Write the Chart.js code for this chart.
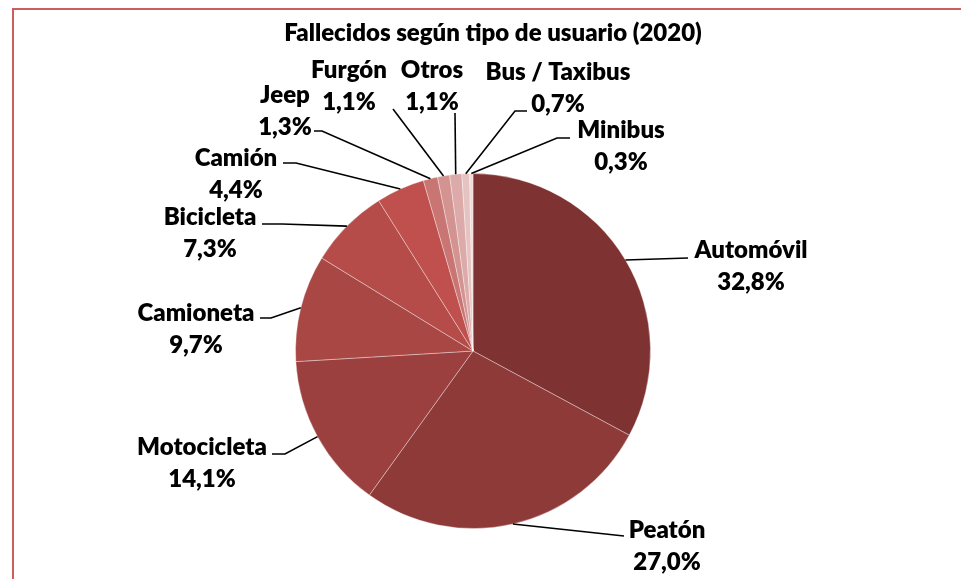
<!DOCTYPE html>
<html lang="es">
<head>
    <meta charset="UTF-8">
    <script src="https://cdn.jsdelivr.net/npm/chart.js"></script>
    <title>Fallecidos según tipo de usuario (2020)</title>
    <style>
        html, body { margin: 0; padding: 0; background: #fff; overflow: hidden; }
        #wrap { position: relative; width: 961px; height: 579px; }
        #frame {
            position: absolute; left: 12px; top: 8px; width: 2000px; height: 2000px;
            border-left: 2px solid #c9605e; border-top: 2px solid #c9605e;
        }
        canvas { position: absolute; left: 0; top: 0; }
    </style>
</head>
<body>
<div id="wrap">
    <div id="frame"></div>
    <canvas id="pieChart" width="961" height="579"></canvas>
</div>

<script>
    var categories = ['Automóvil', 'Peatón', 'Motocicleta', 'Camioneta', 'Bicicleta', 'Camión',
                      'Jeep', 'Furgón', 'Otros', 'Bus / Taxibus', 'Minibus'];
    var shares = [32.8, 27.0, 14.1, 9.7, 7.3, 4.4, 1.3, 1.1, 1.1, 0.7, 0.3];
    var sliceColors = ['#7f3232', '#8e3a39', '#9b403f', '#a94745', '#b54c4a', '#c0504d',
                       '#c87573', '#d29391', '#dbaaa9', '#e5c3c2', '#f0dbda'];
    var chartTitle = 'Fallecidos según tipo de usuario (2020)';

    // where each label sits (text centre) and the leader line bends
    var labelLayout = [
        { tx: 751, ty: 250, elbow: null,       end: [688, 258] },
        { tx: 667, ty: 530, elbow: null,       end: [624, 536] },
        { tx: 202, ty: 447, elbow: [285, 454], end: [272, 454] },
        { tx: 196, ty: 313, elbow: [271, 318], end: [260, 318] },
        { tx: 210, ty: 217, elbow: [282, 224], end: [262, 224] },
        { tx: 236, ty: 158, elbow: [296, 163], end: [283, 163] },
        { tx: 285, ty: 95,  elbow: [322, 131], end: [314, 131] },
        { tx: 349, ty: 70,  elbow: null,       end: [393, 109] },
        { tx: 432, ty: 70,  elbow: null,       end: [455, 113] },
        { tx: 558, ty: 72,  elbow: [515, 111], end: [527, 111] },
        { tx: 621, ty: 130, elbow: [557, 138], end: [570, 138] }
    ];

    var FONT = '800 24px Lato';

    function fmt(v) {
        return v.toFixed(1).replace('.', ',') + '%';
    }

    var outLabels = {
        id: 'outLabels',
        afterDraw: function(chart) {
            var ctx = chart.ctx;
            var meta = chart.getDatasetMeta(0);
            ctx.save();

            // title
            ctx.fillStyle = '#000';
            ctx.font = FONT;
            ctx.textAlign = 'center';
            ctx.textBaseline = 'middle';
            ctx.fillText(chartTitle, 493, 33);

            meta.data.forEach(function(arc, i) {
                var p = arc.getProps(['x', 'y', 'startAngle', 'endAngle', 'outerRadius'], true);
                var mid = (p.startAngle + p.endAngle) / 2;
                var sx = p.x + Math.cos(mid) * p.outerRadius;
                var sy = p.y + Math.sin(mid) * p.outerRadius;
                var lay = labelLayout[i];

                ctx.strokeStyle = '#000';
                ctx.lineWidth = 1.6;
                ctx.beginPath();
                ctx.moveTo(sx, sy);
                if (lay.elbow) ctx.lineTo(lay.elbow[0], lay.elbow[1]);
                ctx.lineTo(lay.end[0], lay.end[1]);
                ctx.stroke();

                ctx.fillStyle = '#000';
                ctx.font = FONT;
                ctx.fillText(categories[i], lay.tx, lay.ty);
                ctx.fillText(fmt(shares[i]), lay.tx, lay.ty + 32);
            });
            ctx.restore();
        }
    };

    new Chart(document.getElementById('pieChart').getContext('2d'), {
        type: 'pie',
        data: {
            labels: categories,
            datasets: [{
                data: shares,
                backgroundColor: sliceColors,
                borderColor: 'rgba(255,255,255,0.35)',
                borderWidth: 1
            }]
        },
        options: {
            responsive: false,
            animation: false,
            layout: { padding: { left: 295, right: 310, top: 173, bottom: 50 } },
            plugins: {
                legend: { display: false },
                tooltip: { enabled: false },
                title: { display: false }
            }
        },
        plugins: [outLabels]
    });
</script>
</body>
</html>
